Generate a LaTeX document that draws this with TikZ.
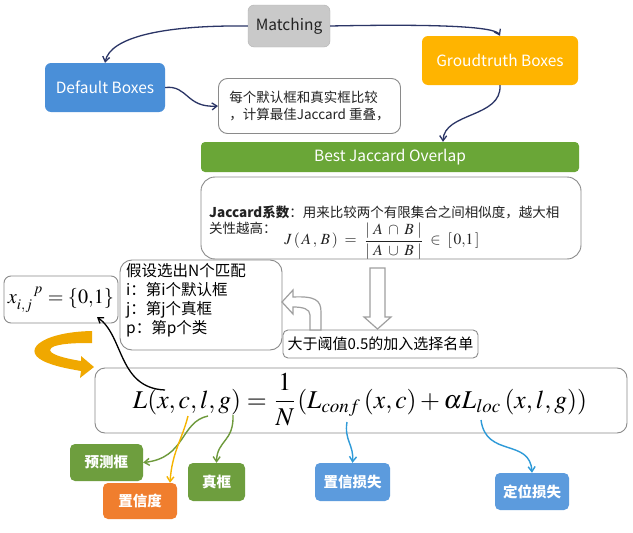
\documentclass[tikz,border=0pt]{standalone}
\usepackage{graphicx}
\usepackage[no-math]{fontspec}
\usepackage{mathptmx}
\setmainfont{Noto Sans CJK SC}
\usetikzlibrary{arrows.meta}
\definecolor{navy}{HTML}{2B3566}
\definecolor{gboxgray}{HTML}{C9C9C9}
\definecolor{defblue}{HTML}{4A8FD8}
\definecolor{gtorange}{HTML}{FFB400}
\definecolor{bestgreen}{HTML}{6AA637}
\definecolor{smgreen}{HTML}{6E9E3E}
\definecolor{smorange}{HTML}{F07E2E}
\definecolor{smblue}{HTML}{5C9BDD}
\definecolor{argreen}{HTML}{6E9A3C}
\definecolor{aryellow}{HTML}{F5B400}
\definecolor{arblue}{HTML}{2E9AD8}
\definecolor{ribbon}{HTML}{F0A800}
\definecolor{bordergray}{HTML}{8A8A8A}
\definecolor{txt}{HTML}{222222}
\tikzset{
  colbox/.style={rounded corners=6pt, inner sep=0pt, text=white, font=\fontsize{15.5}{18}\selectfont},
  smallbox/.style={rounded corners=5pt, inner sep=0pt, text=white, font=\fontsize{14.5}{17}\selectfont\bfseries},
  wbox/.style={rounded corners=9pt, draw=bordergray, line width=0.9pt, fill=white, inner sep=0pt},
  navyarr/.style={draw=navy, line width=1.3pt, -{Straight Barb[length=5pt,width=7pt]}},
  colarr/.style={line width=1.4pt, -{Straight Barb[length=5pt,width=7pt]}},
  hollow/.style={draw=gray!75, line width=1.2pt, fill=white, line join=miter}
}
\begin{document}
\begin{tikzpicture}[x=1pt,y=-1pt]
\useasboundingbox (0,0) rectangle (633,533);
\fill[white] (0,0) rectangle (633,533);

% top boxes
\node[colbox, fill=gboxgray, draw=gray!60, text=txt, minimum width=82pt, minimum height=42pt] (match) at (289,26) {Matching};
\node[colbox, fill=defblue, minimum width=120pt, minimum height=49pt] (def) at (105,87.5) {Default Boxes};
\node[colbox, fill=gtorange, minimum width=156pt, minimum height=49pt] (gt) at (500,60.5) {Groudtruth Boxes};
\node[wbox, minimum width=182pt, minimum height=55pt, align=left, text=txt, font=\fontsize{13.5}{17}\selectfont] (note) at (309.5,106) {每个默认框和真实框比较\\，计算最佳Jaccard 重叠，};
\node[colbox, rounded corners=4pt, fill=bestgreen, minimum width=378pt, minimum height=30pt] (best) at (390,157) {Best Jaccard Overlap};

% Jaccard box
\node[wbox, rounded corners=14pt, minimum width=380pt, minimum height=82pt] (jac) at (391,218) {};
\node[anchor=west, inner sep=0pt, text=txt, font=\fontsize{13.5}{16}\selectfont] (jl1) at (209,212) {\textbf{Jaccard系数}：用来比较两个有限集合之间相似度，越大相};
\node[anchor=west, inner sep=0pt, text=txt, font=\fontsize{13.5}{16}\selectfont] (jl2) at (209,228) {关性越高：};
\node[inner sep=0pt, text=txt] (jf) at (382,241) {\resizebox{195pt}{!}{$J\,(\,A\,,\,B\,)\;=\;\displaystyle\frac{|\;A\;\cap\;B\;|}{|\;A\;\cup\;B\;|}\;\in\;[\,0{,}1\,]$}};

% hypothesis box
\node[wbox, rounded corners=12pt, minimum width=162pt, minimum height=90pt] (hyp) at (201,305) {};
\node[anchor=north west, inner sep=0pt, align=left, font=\fontsize{15.5}{19}\selectfont] (hyptxt) at (126,263) {假设选出N个匹配\\i：第i个默认框\\j：第j个真框\\p：第p个类};

% x box
\node[wbox, rounded corners=7pt, minimum width=114pt, minimum height=47pt] (xbox) at (61,299.5) {};
\node[inner sep=0pt] (xf) at (61,300) {\resizebox{106pt}{!}{$x_{i,j}^{\;\;\;\;\;p}=\{0{,}1\}$}};

% threshold box
\node[wbox, rounded corners=5pt, minimum width=195pt, minimum height=28pt, font=\fontsize{15}{18}\selectfont] (thr) at (380.5,344) {大于阈值0.5的加入选择名单};

% hollow arrows
\draw[hollow] (370,268) -- (385,268) -- (385,317) -- (391,317) -- (377.5,329) -- (364,317) -- (370,317) -- cycle;
\draw[hollow] (282,302) -- (293,290) -- (293,297) .. controls (315,296) and (321,300) .. (321,312) -- (321,330) -- (310,330) -- (310,315) .. controls (310,309) and (303,307) .. (293,307) -- (293,314) -- cycle;

% loss box
\node[wbox, rounded corners=10pt, minimum width=532pt, minimum height=65pt] (loss) at (361,400.5) {};
\node[inner sep=0pt] (lossf) at (360,400) {\resizebox{454pt}{!}{$\displaystyle L(x,c,l,g)=\frac{1}{N}(L_{conf}\,(x,c)+\alpha L_{loc}\,(x,l,g))$}};

% ribbon arrow
\fill[ribbon] (92,331) .. controls (40,332) and (18,352) .. (48,363) .. controls (58,367) and (70,369) .. (81,371) -- (80,378) -- (94,367) -- (81,356) -- (81,361) .. controls (62,358) and (40,352) .. (55,346) .. controls (65,343) and (80,343) .. (92,343) -- cycle;

% small boxes
\node[smallbox, fill=smgreen, minimum width=73pt, minimum height=37pt] (pred) at (106.5,462.5) {预测框};
\node[smallbox, fill=smorange, minimum width=74pt, minimum height=36pt] (confb) at (140,501) {置信度};
\node[smallbox, fill=smgreen, minimum width=57pt, minimum height=38pt] (truth) at (216.5,482) {真框};
\node[smallbox, fill=smblue, minimum width=75pt, minimum height=38pt] (confloss) at (352.5,482) {置信损失};
\node[smallbox, fill=smblue, minimum width=74pt, minimum height=37pt] (locloss) at (532,491.5) {定位损失};

% top connectors
\draw[navyarr] (match.west) .. controls (160,25) and (110,38) .. (def.north);
\draw[navyarr] (match.east) .. controls (430,24) and (495,26) .. (gt.north);
\draw[navyarr] (def.east) .. controls (188,85) and (186,108) .. (note.west);
\draw[navyarr] (gt.south) .. controls (502,118) and (444,112) .. ([xshift=53pt]best.north);

% black connector
\coordinate (lx) at (165,390);
\coordinate (x01) at (97,317);
\draw[black, line width=1.3pt, -{Straight Barb[length=5pt,width=7pt]}] (lx) .. controls (118,388) and (124,336) .. (x01);

% formula connectors
\coordinate (cpt) at (208,416);
\coordinate (xpt) at (188,416);
\coordinate (gpt) at (233,415);
\coordinate (confpt) at (347,422);
\coordinate (locpt) at (481,420);
\draw[colarr, draw=argreen] (cpt) .. controls (180,422) and (186,458) .. (pred.east);
\draw[colarr, draw=aryellow] (xpt) .. controls (182,440) and (172,452) .. ([xshift=30pt]confb.north);
\draw[colarr, draw=argreen] (gpt) .. controls (234,442) and (217,440) .. (truth.north);
\draw[colarr, draw=arblue] (confpt) .. controls (344,440) and (354,445) .. (confloss.north);
\draw[colarr, draw=arblue] (locpt) .. controls (486,458) and (530,438) .. (locloss.north);
\end{tikzpicture}
\end{document}
